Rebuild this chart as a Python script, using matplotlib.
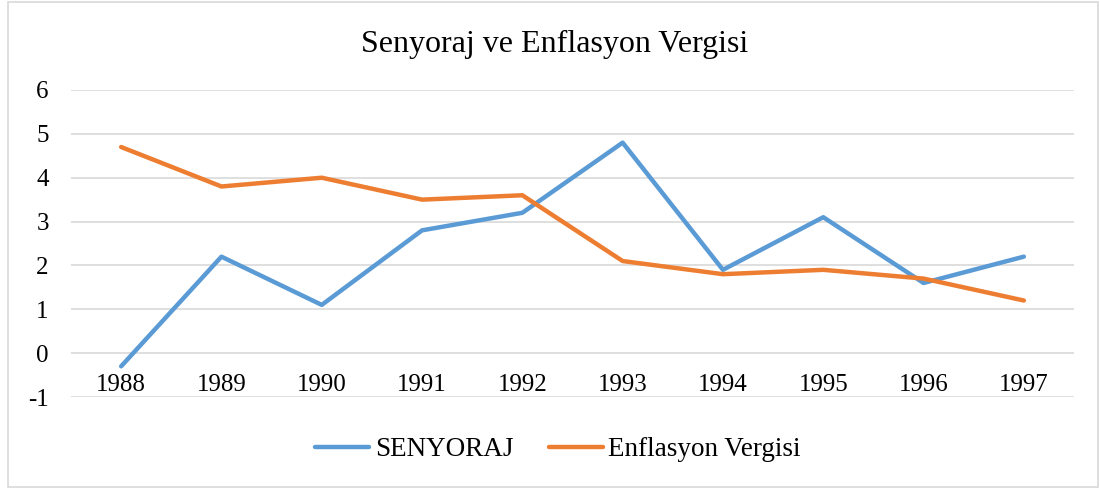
import matplotlib
matplotlib.use("Agg")
import matplotlib.pyplot as plt
from matplotlib.patches import Rectangle

years = ["1988", "1989", "1990", "1991", "1992", "1993", "1994", "1995", "1996", "1997"]
senyoraj = [-0.3, 2.2, 1.1, 2.8, 3.2, 4.8, 1.9, 3.1, 1.6, 2.2]
enflasyon_vergisi = [4.7, 3.8, 4.0, 3.5, 3.6, 2.1, 1.8, 1.9, 1.7, 1.2]
y_ticks = [-1, 0, 1, 2, 3, 4, 5, 6]
title = "Senyoraj ve Enflasyon Vergisi"
series_names = ["SENYORAJ", "Enflasyon Vergisi"]

plt.rcParams['font.family'] = ['Liberation Serif', 'DejaVu Serif']

W, H = 1100, 488
fig = plt.figure(figsize=(W / 100, H / 100), dpi=100)

# outer border
fig.patches.append(Rectangle((8 / W, 1 / H), (1098 - 8) / W, (486 - 1) / H,
                             transform=fig.transFigure, fill=False,
                             edgecolor="#d9d9d9", linewidth=1.2))

left, right, top, bottom = 71, 1074, 90, 397
ax = fig.add_axes([left / W, (H - bottom) / H, (right - left) / W, (bottom - top) / H])

x = list(range(len(years)))
blue = "#5B9BD5"
orange = "#ED7D31"
ax.plot(x, senyoraj, color=blue, linewidth=3.2, solid_capstyle="round",
        solid_joinstyle="round", label=series_names[0], zorder=3)
ax.plot(x, enflasyon_vergisi, color=orange, linewidth=3.2, solid_capstyle="round",
        solid_joinstyle="round", label=series_names[1], zorder=3)

ax.set_xlim(-0.5, len(years) - 0.5)
ax.set_ylim(-1, 6)
ax.set_yticks(y_ticks)
ax.set_yticklabels([str(v) for v in y_ticks])
ax.set_xticks(x)
ax.set_xticklabels(years)

ax.grid(axis="y", color="#d9d9d9", linewidth=1.2, zorder=0)
ax.set_axisbelow(True)
for s in ["top", "right", "left"]:
    ax.spines[s].set_visible(False)
ax.spines["bottom"].set_position(("data", 0))
ax.spines["bottom"].set_visible(False)

ax.tick_params(axis="y", length=0, pad=16, labelsize=18, labelcolor="#000000")
ax.tick_params(axis="x", length=0, pad=15, labelsize=18, labelcolor="#000000")

fig.text(555 / W, 1 - 44 / H, title, ha="center", va="center", fontsize=23, color="#000000")

leg = fig.legend(loc="center", bbox_to_anchor=(558 / W, 38 / H), ncol=2, frameon=False,
                 fontsize=19.5, handlelength=2.0, handletextpad=0.2, columnspacing=1.3)
for line in leg.get_lines():
    line.set_linewidth(3.2)

fig.savefig("out.png", dpi=100)
